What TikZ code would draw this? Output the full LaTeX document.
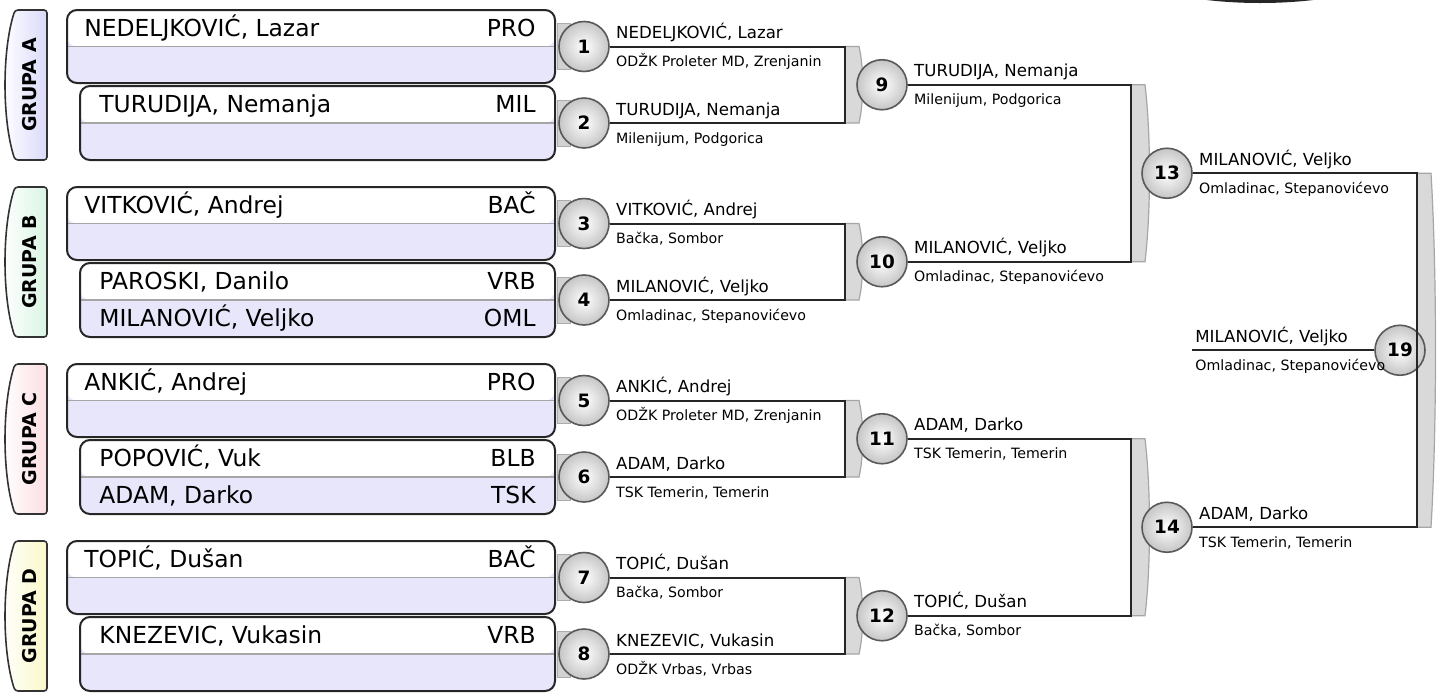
\documentclass[tikz,border=0pt]{standalone}
\usepackage{fontspec}
\setmainfont{DejaVu Sans}
\usetikzlibrary{positioning, calc}

\definecolor{lavbox}{RGB}{232,230,250}
\definecolor{grpA}{RGB}{218,218,250}
\definecolor{grpB}{RGB}{218,245,228}
\definecolor{grpC}{RGB}{252,222,226}
\definecolor{grpD}{RGB}{250,248,200}

\begin{document}
\begin{tikzpicture}[
  x=0.5pt, y=-0.5pt,
  % Group tabs
  grptab/.style={draw=black!80, line width=0.8pt, rounded corners=1.5pt},
  grplabel/.style={rotate=90, inner sep=0pt, font=\bfseries\fontsize{9.5}{11}\selectfont},
  % Player boxes (white upper row, lavender lower row)
  pbox/.style={draw=black!85, line width=1pt, rounded corners=5pt, fill=lavbox, inner sep=0pt,
    path picture={
      \fill[white] (path picture bounding box.north west) rectangle (path picture bounding box.east);
      \draw[gray!70, line width=0.6pt] (path picture bounding box.west) -- (path picture bounding box.east);
    }},
  pboxA/.style={pbox, minimum width=244pt, minimum height=36.5pt},
  pboxB/.style={pbox, minimum width=237.5pt, minimum height=37pt},
  pname/.style={inner sep=0pt, anchor=base west, font=\fontsize{11.7}{14}\selectfont},
  pclub/.style={inner sep=0pt, anchor=base east, font=\fontsize{11.7}{14}\selectfont},
  stub/.style={draw=gray!65, fill=gray!35, line width=0.5pt},
  % Matches
  match/.style={circle, draw=black!65, line width=0.8pt, shading=radial, inner color=white,
    outer color=gray!45, minimum size=25pt, inner sep=0pt, font=\bfseries\fontsize{9.2}{10}\selectfont},
  tabfill/.style={draw=gray!70, fill=gray!30, line width=0.6pt},
  wire/.style={draw=black!85, line width=1pt},
  wname/.style={inner sep=0pt, anchor=base west, font=\fontsize{8.3}{10}\selectfont},
  wclub/.style={inner sep=0pt, anchor=base west, font=\fontsize{7.1}{9}\selectfont}
  ]

  \useasboundingbox (0,0) rectangle (1446,697);
  \clip (0,0) rectangle (1446,697);

  % cut-off element at the top edge
  \fill[black!85] (1260,-37) ellipse [x radius=140, y radius=40];

  % --- Group tabs ---
  \draw[grptab, left color=white, right color=grpA] (47,10) -- ++(-32,0) .. controls +(-13,40) and +(-13,-40) .. ++(0,150) -- ++(32,0) -- cycle;
  \node[grplabel] (GA) at (30,85) {GRUPA A};
  \draw[grptab, left color=white, right color=grpB] (47,187) -- ++(-32,0) .. controls +(-13,40) and +(-13,-40) .. ++(0,150) -- ++(32,0) -- cycle;
  \node[grplabel] (GB) at (30,262) {GRUPA B};
  \draw[grptab, left color=white, right color=grpC] (47,364) -- ++(-32,0) .. controls +(-13,40) and +(-13,-40) .. ++(0,150) -- ++(32,0) -- cycle;
  \node[grplabel] (GC) at (30,439) {GRUPA C};
  \draw[grptab, left color=white, right color=grpD] (47,541) -- ++(-32,0) .. controls +(-13,40) and +(-13,-40) .. ++(0,150) -- ++(32,0) -- cycle;
  \node[grplabel] (GD) at (30,616) {GRUPA D};

  % --- Bracket corners ---
  \coordinate (K1) at (845,46.5);
  \coordinate (K2) at (845,123);
  \coordinate (K3) at (845,223.5);
  \coordinate (K4) at (845,300);
  \coordinate (K5) at (845,400.5);
  \coordinate (K6) at (845,477);
  \coordinate (K7) at (845,577.5);
  \coordinate (K8) at (845,654);
  \coordinate (K9) at ($(K1)!0.5!(K2)+(286,0)$);
  \coordinate (K10) at ($(K3)!0.5!(K4)+(286,0)$);
  \coordinate (K11) at ($(K5)!0.5!(K6)+(286,0)$);
  \coordinate (K12) at ($(K7)!0.5!(K8)+(286,0)$);
  \coordinate (K13) at ($(K9)!0.5!(K10)+(286,0)$);
  \coordinate (K14) at ($(K11)!0.5!(K12)+(286,0)$);

  % --- Bracket tabs ---
  \draw[tabfill] (K1) -- ++(14,0) .. controls +(5,22) and +(5,-22) .. ($(K2)+(14,0)$) -- (K2) -- cycle;
  \draw[tabfill] (K3) -- ++(14,0) .. controls +(5,22) and +(5,-22) .. ($(K4)+(14,0)$) -- (K4) -- cycle;
  \draw[tabfill] (K5) -- ++(14,0) .. controls +(5,22) and +(5,-22) .. ($(K6)+(14,0)$) -- (K6) -- cycle;
  \draw[tabfill] (K7) -- ++(14,0) .. controls +(5,22) and +(5,-22) .. ($(K8)+(14,0)$) -- (K8) -- cycle;
  \draw[tabfill] (K9) -- ++(14,0) .. controls +(6,50) and +(6,-50) .. ($(K10)+(14,0)$) -- (K10) -- cycle;
  \draw[tabfill] (K11) -- ++(14,0) .. controls +(6,50) and +(6,-50) .. ($(K12)+(14,0)$) -- (K12) -- cycle;
  \draw[tabfill] (K13) -- ++(14,0) .. controls +(6,100) and +(6,-100) .. ($(K14)+(14,0)$) -- (K14) -- cycle;

  % --- Player boxes ---
  \node[pboxA] (PA1) at (311,46.5) {};
  \node[pboxB] (PA2) at (317.5,123) {};
  \node[pboxA] (PB1) at (311,223.5) {};
  \node[pboxB] (PB2) at (317.5,300) {};
  \node[pboxA] (PC1) at (311,400.5) {};
  \node[pboxB] (PC2) at (317.5,477) {};
  \node[pboxA] (PD1) at (311,577.5) {};
  \node[pboxB] (PD2) at (317.5,654) {};

  \draw[stub] ($(PA1.east)+(1,-23)$) rectangle ($(PA1.east)+(14,23)$);
  \draw[stub] ($(PA2.east)+(1,-23)$) rectangle ($(PA2.east)+(14,23)$);
  \draw[stub] ($(PB1.east)+(1,-23)$) rectangle ($(PB1.east)+(14,23)$);
  \draw[stub] ($(PB2.east)+(1,-23)$) rectangle ($(PB2.east)+(14,23)$);
  \draw[stub] ($(PC1.east)+(1,-23)$) rectangle ($(PC1.east)+(14,23)$);
  \draw[stub] ($(PC2.east)+(1,-23)$) rectangle ($(PC2.east)+(14,23)$);
  \draw[stub] ($(PD1.east)+(1,-23)$) rectangle ($(PD1.east)+(14,23)$);
  \draw[stub] ($(PD2.east)+(1,-23)$) rectangle ($(PD2.east)+(14,23)$);

  % Grupa A
  \node[pname] at ($(PA1.north west)+(18,27)$) {NEDELJKOVIĆ, Lazar};
  \node[pclub] at ($(PA1.north east)+(-20,27)$) {PRO};
  \node[pname] at ($(PA2.north west)+(20,27)$) {TURUDIJA, Nemanja};
  \node[pclub] at ($(PA2.north east)+(-20,27)$) {MIL};
  % Grupa B
  \node[pname] at ($(PB1.north west)+(18,27)$) {VITKOVIĆ, Andrej};
  \node[pclub] at ($(PB1.north east)+(-20,27)$) {BAČ};
  \node[pname] at ($(PB2.north west)+(20,27)$) {PAROSKI, Danilo};
  \node[pclub] at ($(PB2.north east)+(-20,27)$) {VRB};
  \node[pname] at ($(PB2.north west)+(20,64)$) {MILANOVIĆ, Veljko};
  \node[pclub] at ($(PB2.north east)+(-20,64)$) {OML};
  % Grupa C
  \node[pname] at ($(PC1.north west)+(18,27)$) {ANKIĆ, Andrej};
  \node[pclub] at ($(PC1.north east)+(-20,27)$) {PRO};
  \node[pname] at ($(PC2.north west)+(20,27)$) {POPOVIĆ, Vuk};
  \node[pclub] at ($(PC2.north east)+(-20,27)$) {BLB};
  \node[pname] at ($(PC2.north west)+(20,64)$) {ADAM, Darko};
  \node[pclub] at ($(PC2.north east)+(-20,64)$) {TSK};
  % Grupa D
  \node[pname] at ($(PD1.north west)+(18,27)$) {TOPIĆ, Dušan};
  \node[pclub] at ($(PD1.north east)+(-20,27)$) {BAČ};
  \node[pname] at ($(PD2.north west)+(20,27)$) {KNEZEVIC, Vukasin};
  \node[pclub] at ($(PD2.north east)+(-20,27)$) {VRB};

  % --- Matches ---
  \node[match] (M1) at (584,46.5) {1};
  \node[match] (M2) at (584,123) {2};
  \node[match] (M3) at (584,223.5) {3};
  \node[match] (M4) at (584,300) {4};
  \node[match] (M5) at (584,400.5) {5};
  \node[match] (M6) at (584,477) {6};
  \node[match] (M7) at (584,577.5) {7};
  \node[match] (M8) at (584,654) {8};
  \node[match] (M9) at ($(K1)!0.5!(K2)+(37,0)$) {9};
  \node[match] (M10) at ($(K3)!0.5!(K4)+(37,0)$) {10};
  \node[match] (M11) at ($(K5)!0.5!(K6)+(37,0)$) {11};
  \node[match] (M12) at ($(K7)!0.5!(K8)+(37,0)$) {12};
  \node[match] (M13) at ($(K9)!0.5!(K10)+(36,0)$) {13};
  \node[match] (M14) at ($(K11)!0.5!(K12)+(36,0)$) {14};
  \node[match] (M19) at ($(K13)!0.5!(K14)+(-17,0)$) {19};
  \coordinate (E19) at ($(M19)+(-208,0)$);

  % Wiring
  \draw[wire] (M1) -- (K1) -- (K2) -- (M2);
  \draw[wire] (M3) -- (K3) -- (K4) -- (M4);
  \draw[wire] (M5) -- (K5) -- (K6) -- (M6);
  \draw[wire] (M7) -- (K7) -- (K8) -- (M8);
  \draw[wire] (M9) -- (K9) -- (K10) -- (M10);
  \draw[wire] (M11) -- (K11) -- (K12) -- (M12);
  \draw[wire] (M13) -- (K13) -- (K14) -- (M14);
  \draw[wire] (E19) -- (M19);

  % --- Winners ---
  \node[wname] at ($(M1.east)+(6,-8)$) {NEDELJKOVIĆ, Lazar};
  \node[wclub] at ($(M1.east)+(6,20)$) {ODŽK Proleter MD, Zrenjanin};
  \node[wname] at ($(M2.east)+(6,-8)$) {TURUDIJA, Nemanja};
  \node[wclub] at ($(M2.east)+(6,20)$) {Milenijum, Podgorica};
  \node[wname] at ($(M3.east)+(6,-8)$) {VITKOVIĆ, Andrej};
  \node[wclub] at ($(M3.east)+(6,20)$) {Bačka, Sombor};
  \node[wname] at ($(M4.east)+(6,-8)$) {MILANOVIĆ, Veljko};
  \node[wclub] at ($(M4.east)+(6,20)$) {Omladinac, Stepanovićevo};
  \node[wname] at ($(M5.east)+(6,-8)$) {ANKIĆ, Andrej};
  \node[wclub] at ($(M5.east)+(6,20)$) {ODŽK Proleter MD, Zrenjanin};
  \node[wname] at ($(M6.east)+(6,-8)$) {ADAM, Darko};
  \node[wclub] at ($(M6.east)+(6,20)$) {TSK Temerin, Temerin};
  \node[wname] at ($(M7.east)+(6,-8)$) {TOPIĆ, Dušan};
  \node[wclub] at ($(M7.east)+(6,20)$) {Bačka, Sombor};
  \node[wname] at ($(M8.east)+(6,-8)$) {KNEZEVIC, Vukasin};
  \node[wclub] at ($(M8.east)+(6,20)$) {ODŽK Vrbas, Vrbas};

  \node[wname] at ($(M9.east)+(6,-8)$) {TURUDIJA, Nemanja};
  \node[wclub] at ($(M9.east)+(6,20)$) {Milenijum, Podgorica};
  \node[wname] at ($(M10.east)+(6,-8)$) {MILANOVIĆ, Veljko};
  \node[wclub] at ($(M10.east)+(6,20)$) {Omladinac, Stepanovićevo};
  \node[wname] at ($(M11.east)+(6,-8)$) {ADAM, Darko};
  \node[wclub] at ($(M11.east)+(6,20)$) {TSK Temerin, Temerin};
  \node[wname] at ($(M12.east)+(6,-8)$) {TOPIĆ, Dušan};
  \node[wclub] at ($(M12.east)+(6,20)$) {Bačka, Sombor};

  \node[wname] at ($(M13.east)+(6,-8)$) {MILANOVIĆ, Veljko};
  \node[wclub] at ($(M13.east)+(6,20)$) {Omladinac, Stepanovićevo};
  \node[wname] at ($(M14.east)+(6,-8)$) {ADAM, Darko};
  \node[wclub] at ($(M14.east)+(6,20)$) {TSK Temerin, Temerin};

  \node[wname] at ($(E19)+(3,-8)$) {MILANOVIĆ, Veljko};
  \node[wclub] at ($(E19)+(3,20)$) {Omladinac, Stepanovićevo};

\end{tikzpicture}
\end{document}
